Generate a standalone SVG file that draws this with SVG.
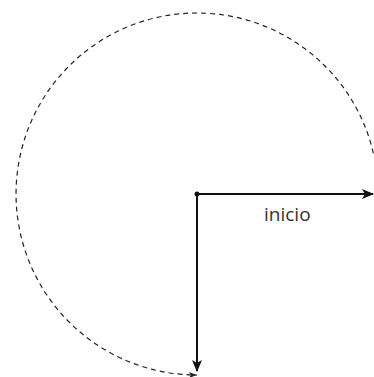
<svg xmlns="http://www.w3.org/2000/svg" width="374" height="377" viewBox="0 0 374 377">
<style>
.ax{stroke:#111;stroke-width:2;fill:none}
.arc{stroke:#222;stroke-width:1.2;fill:none;stroke-dasharray:5,4}
.lbl{font-family:"Open Sans",sans-serif;font-size:19px;fill:#333}
</style>
<defs>
<marker id="ah" viewBox="0 0 12 10" refX="11" refY="5" markerWidth="12" markerHeight="10" markerUnits="userSpaceOnUse" orient="auto">
<path d="M0,0 L12,5 L0,10 L3,5 Z" fill="#111"/>
</marker>
<marker id="ahs" viewBox="0 0 8 6" refX="8" refY="3" markerWidth="8" markerHeight="6" markerUnits="userSpaceOnUse" orient="auto">
<path d="M0,0 L8,3 L0,6 L2,3 Z" fill="#222"/>
</marker>
</defs>
<g id="connectors">
<path class="arc" d="M373.4,153.3 A181,181 0 1 0 197,375" marker-end="url(#ahs)"/>
<line class="ax" x1="197" y1="194" x2="373" y2="194" marker-end="url(#ah)"/>
<line class="ax" x1="197" y1="194" x2="197" y2="371" marker-end="url(#ah)"/>
</g>
<g id="origin"><circle cx="197" cy="194" r="2.5" fill="#111"/></g>
<g id="label"><text class="lbl" x="264" y="221">inicio</text></g>
</svg>
